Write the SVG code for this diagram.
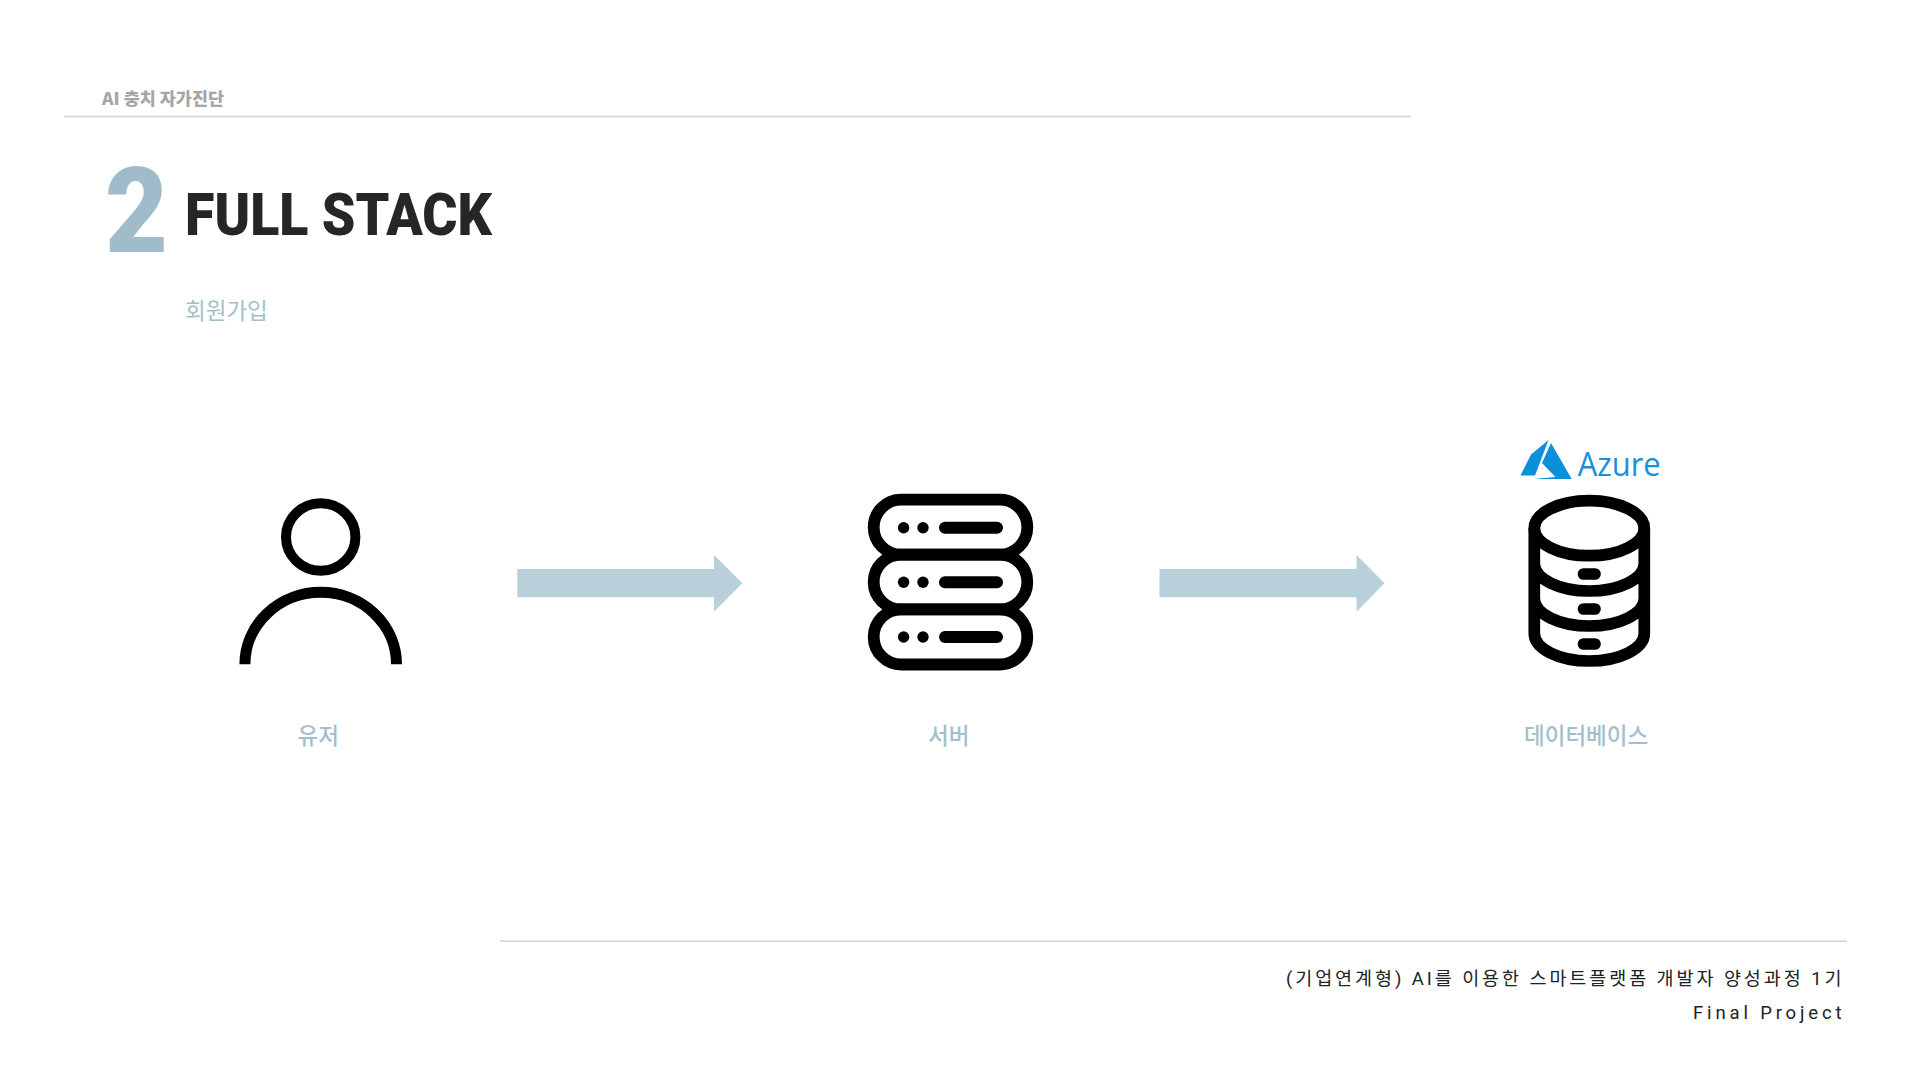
<svg xmlns="http://www.w3.org/2000/svg" width="1920" height="1080" viewBox="0 0 1920 1080">
<style>
text{font-family:Roboto,"Noto Sans CJK KR",sans-serif}
.kr{font-family:"Noto Sans CJK KR",sans-serif;font-size:22.5px;fill:#a3bfcc;font-weight:500}
.foot{font-size:18.5px;fill:#222;font-family:Roboto,"Noto Sans CJK KR",sans-serif}
.rule{stroke:#c8d4d9;stroke-width:1.5;fill:none}
.ico{fill:none;stroke:#000}
.arrow{fill:#b8d0d9}
</style>
<defs>
<g id="slot"><circle cx="903.6" cy="0" r="5.7"/><circle cx="923" cy="0" r="5.7"/><line x1="945" x2="997" y1="0" y2="0" stroke="#000" stroke-width="12" stroke-linecap="round"/></g>
</defs>
<rect width="1920" height="1080" fill="#fff"/>
<g id="header">
<text x="102" y="105" font-size="17" font-weight="900" fill="#a6a6a6" textLength="122" lengthAdjust="spacingAndGlyphs" style="font-family:'Noto Sans CJK KR',sans-serif">AI 충치 자가진단</text>
<line class="rule" x1="64" y1="116.5" x2="1411" y2="116.5"/>
<text x="105" y="252" font-size="119" font-weight="900" fill="#a0bccb" textLength="63" lengthAdjust="spacingAndGlyphs">2</text>
<text x="185" y="235" font-size="59" font-weight="900" fill="#262626" textLength="307" lengthAdjust="spacingAndGlyphs">FULL STACK</text>
<text class="kr" x="185" y="319" style="font-weight:400">회원가입</text>
</g>
<g id="node-user">
<ellipse class="ico" cx="320.7" cy="537" rx="34.7" ry="33.7" stroke-width="10"/>
<path class="ico" d="M244.9 664.3A75.8 72 0 0 1 396.5 664.3" stroke-width="11"/>
<text class="kr" x="297.5" y="744">유저</text>
</g>
<g id="node-server">
<rect class="ico" x="873.7" y="499.7" width="153.6" height="55" rx="27.5" stroke-width="11.8"/>
<rect class="ico" x="873.7" y="554.7" width="153.6" height="54.6" rx="27.3" stroke-width="11.8"/>
<rect class="ico" x="873.7" y="609.3" width="153.6" height="55.2" rx="27.6" stroke-width="11.8"/>
<use href="#slot" y="527.7"/><use href="#slot" y="582.3"/><use href="#slot" y="637"/>
<text class="kr" x="928" y="744">서버</text>
</g>
<g id="node-database">
<g id="azure-logo">
<path d="M1548.5 440L1531 454.5L1520.5 475.5H1535L1548.5 440Z" fill="#0a8fdc"/>
<path d="M1551 443L1542 463L1555.5 477L1534 479H1571.7L1551 443Z" fill="#0a8fdc"/>
<text x="1577.7" y="475.5" font-size="32" fill="#1a8fdc" style="font-family:'Open Sans',sans-serif" textLength="83" lengthAdjust="spacingAndGlyphs">Azure</text>
</g>
<ellipse class="ico" cx="1589.3" cy="528.2" rx="55" ry="27.5" stroke-width="11.7"/>
<path class="ico" d="M1534.3 528.2V633.5A55 27.5 0 0 0 1644.3 633.5V528.2M1534.3 563.5A55 27.5 0 0 0 1644.3 563.5M1534.3 598.5A55 27.5 0 0 0 1644.3 598.5" stroke-width="11.7"/>
<path class="ico" d="M1583.5 574H1595M1583.5 609H1595M1583.5 644H1595" stroke-width="11.7" stroke-linecap="round"/>
<text class="kr" x="1524" y="744">데이터베이스</text>
</g>
<g id="connectors">
<path class="arrow" d="M517.3 569H714V555L742.3 583.3L714 611.7V597.3H517.3Z"/>
<path class="arrow" d="M1159.5 569H1356.5V555L1384.5 583.3L1356.5 611.7V597.3H1159.5Z"/>
</g>
<g id="footer">
<line class="rule" x1="500" y1="941.3" x2="1847" y2="941.3"/>
<text class="foot" x="1286" y="985" textLength="555.5">(기업연계형) AI를 이용한 스마트플랫폼 개발자 양성과정 1기</text>
<text class="foot" x="1693" y="1019" textLength="148.5">Final Project</text>
</g>
</svg>
